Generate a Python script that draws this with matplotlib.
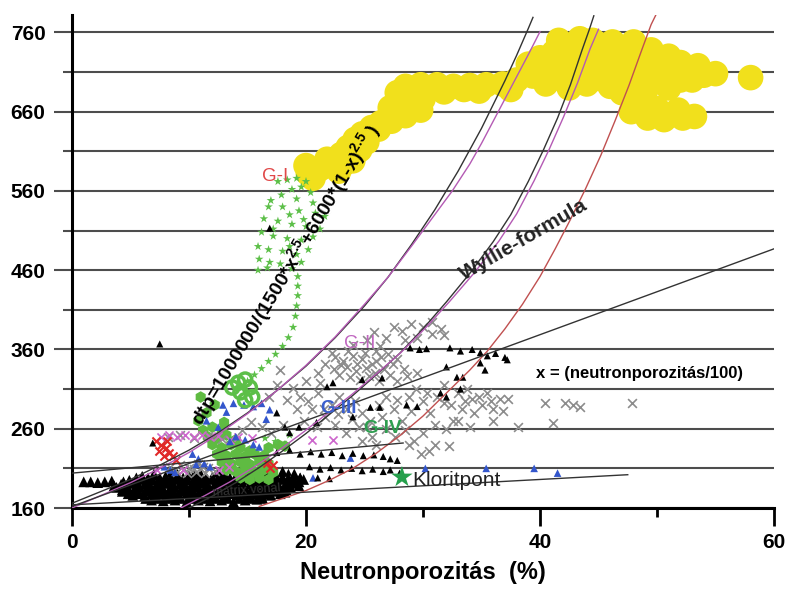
import matplotlib.pyplot as plt
from matplotlib.ticker import MultipleLocator

plt.rcParams['font.family'] = ['Liberation Sans', 'DejaVu Sans']
plt.rcParams['mathtext.default'] = 'regular'

# --- measured points (neutron porosity %, sonic dtp) ---
yellow_pts = [
    (20.2, 582), (21.2, 588), (22.2, 592), (23.2, 594), (24.0, 598), (21.8, 600),
    (23.0, 606), (24.6, 612), (25.2, 622), (24.8, 632), (25.6, 640), (26.4, 646),
    (27.3, 648), (28.5, 655), (29.8, 662), (29.5, 667), (20.6, 576), (22.8, 585),
    (20.0, 592), (23.6, 615), (24.2, 625), (26.2, 638), (27.8, 662), (28.8, 668),
    (27.2, 665), (30.0, 676),
    (28.5, 692), (29.8, 694), (31.2, 694), (32.6, 692), (34.0, 693), (35.4, 694),
    (36.8, 695), (30.5, 688), (33.5, 688), (27.8, 684), (31.8, 685), (34.8, 686),
    (37.5, 688), (38.0, 700),
    (39.4, 705), (40.6, 715), (41.2, 735), (41.6, 750), (43.4, 752), (45.0, 745),
    (46.2, 748), (48.0, 748), (49.5, 738), (51.0, 730), (40.5, 695), (42.0, 700),
    (43.5, 708), (45.0, 712), (46.5, 718), (48.0, 722), (49.5, 718), (51.0, 712),
    (52.5, 710), (54.0, 706), (44.0, 728), (46.0, 732), (42.5, 722), (48.0, 700),
    (50.0, 698), (52.0, 700), (44.0, 695), (46.0, 692), (42.5, 690),
    (39.0, 720), (40.0, 728), (41.0, 722), (42.0, 740), (43.0, 738), (44.5, 750),
    (45.5, 735), (47.0, 740), (47.5, 728), (49.0, 728), (50.5, 722), (52.0, 722),
    (53.5, 718), (55.0, 708), (43.0, 698), (45.0, 702), (47.0, 706), (49.0, 706),
    (51.0, 702), (53.0, 700), (47.0, 684), (49.0, 686), (51.0, 690),
    (47.8, 660), (49.2, 652), (50.6, 650), (52.2, 652), (48.5, 670), (50.0, 664),
    (51.8, 662), (53.2, 654),
    (58.0, 703),
]

green_star_pts = [
    (17.6, 572), (18.4, 574), (19.2, 576), (20.0, 572), (19.6, 565), (18.8, 562),
    (20.4, 558), (17.9, 555), (19.2, 550), (20.6, 545), (16.8, 540), (18.0, 540),
    (19.4, 535), (20.8, 532), (21.6, 528), (16.4, 525), (17.6, 522), (18.8, 518),
    (20.0, 515), (21.2, 512), (16.2, 508), (17.2, 503), (18.4, 500), (19.6, 498),
    (20.6, 502), (15.9, 490), (16.8, 486), (18.0, 484), (19.2, 480), (20.2, 486),
    (16.0, 474), (16.9, 470), (15.9, 460), (16.7, 463), (17.8, 468), (18.8, 462),
    (19.6, 470), (17.0, 548), (18.6, 530), (19.8, 524), (17.2, 512), (18.6, 490),
    (19.3, 452), (19.3, 440), (19.3, 428), (19.2, 415), (19.1, 402), (18.9, 388),
    (18.5, 375), (18.0, 364), (17.4, 354), (16.8, 345), (16.2, 336), (15.6, 328),
    (15.0, 320),
    (16.5, 248), (17.4, 244), (18.3, 240), (17.0, 236), (18.6, 252),
]

green_ring_pts = [(14.2, 318), (14.8, 322), (15.2, 312), (14.4, 306), (13.7, 312),
                  (15.4, 300), (14.8, 296)]

green_blob_pts = [
    (11.2, 258), (12.0, 262), (12.8, 258), (11.6, 250), (12.4, 248), (13.2, 252),
    (12.0, 240), (12.8, 236), (13.6, 240), (14.4, 236), (12.4, 228), (13.2, 226),
    (14.0, 228), (14.8, 225), (15.6, 228), (16.4, 226), (12.8, 218), (13.6, 216),
    (14.4, 218), (15.2, 215), (16.0, 218), (16.8, 216), (13.2, 208), (14.0, 206),
    (14.8, 208), (15.6, 206), (16.4, 208), (17.2, 205), (14.4, 198), (15.2, 196),
    (16.0, 198), (16.8, 196), (10.8, 270), (11.5, 280), (12.2, 290), (11.0, 300),
    (16.8, 236), (17.6, 240), (18.2, 238), (15.2, 232), (14.0, 246), (13.0, 268),
]

gray_x_pts = [
    (22.5, 350), (23.2, 345), (24.0, 352), (24.8, 348), (25.6, 342), (26.4, 350),
    (23.5, 338), (24.3, 333), (25.1, 337), (25.9, 330), (26.7, 336), (27.4, 342),
    (22.8, 328), (23.8, 325), (24.6, 322), (25.4, 326), (26.2, 320), (27.2, 328),
    (26.3, 365), (26.8, 375), (25.8, 382), (27.5, 388), (28.2, 383), (29.0, 392),
    (30.0, 388), (30.8, 380), (29.5, 375), (31.5, 386),
    (22.2, 356), (23.6, 358), (25.0, 356), (26.0, 358), (27.0, 354), (24.4, 342),
    (26.0, 345), (27.8, 348), (28.4, 335), (23.0, 340), (22.4, 336), (27.8, 320),
    (28.6, 326), (29.5, 330), (21.6, 342), (21.0, 330), (24.0, 366), (25.2, 372),
    (28.5, 372), (30.8, 395), (31.8, 378),
    (17.8, 334), (18.9, 312), (19.5, 300), (20.2, 295), (21.0, 305), (20.5, 285),
    (19.8, 270), (20.9, 262), (21.6, 275), (22.2, 290), (22.8, 300), (23.5, 285),
    (24.2, 295), (24.8, 280), (25.5, 270), (26.2, 290), (26.8, 300), (27.5, 285),
    (28.2, 270), (28.8, 300), (29.4, 310), (30.0, 295), (30.6, 280), (31.2, 300),
    (31.8, 315), (32.4, 290), (33.0, 305), (33.6, 295), (34.2, 298), (35.0, 290),
    (35.8, 295), (36.6, 297), (37.3, 298), (36.8, 282), (38.1, 262), (34.4, 280),
    (33.0, 270), (32.0, 260), (31.0, 265), (30.0, 255), (29.2, 245), (28.5, 258),
    (27.6, 250), (26.8, 260), (25.6, 250), (24.5, 262), (23.4, 255), (22.5, 265),
    (21.5, 285), (22.7, 278), (23.9, 272), (25.2, 262), (26.5, 275), (27.8, 296),
    (29.0, 282), (30.3, 305), (31.8, 292), (33.3, 285), (34.8, 300), (36.0, 285),
    (33.8, 310), (35.5, 305), (32.6, 270), (34.0, 262), (36.0, 270), (20.0, 320),
    (21.2, 318), (19.2, 285), (18.4, 296), (17.5, 315), (16.8, 300), (28.8, 240),
    (29.8, 228), (26.0, 240), (24.8, 244),
    (17.0, 255), (18.0, 265), (16.2, 262), (15.3, 268), (14.5, 258),
    (40.4, 292), (41.1, 267), (42.1, 293), (42.8, 290), (43.4, 287), (47.9, 292),
    (31.0, 240), (32.2, 238), (30.5, 232),
    (8.4, 212), (9.2, 214), (10.0, 211), (10.8, 215), (11.6, 210), (9.0, 206),
    (9.8, 204), (10.6, 206), (11.4, 204), (12.2, 207), (8.2, 250), (9.2, 252),
    (10.4, 248), (11.6, 251), (12.8, 247), (9.6, 209), (10.4, 209), (11.2, 212),
]

black_mass_pts = [
    (6.8, 170), (7.8, 169), (8.8, 170), (9.8, 168), (10.8, 170), (11.8, 169),
    (12.8, 170), (13.8, 168), (14.8, 170), (15.8, 171),
    (6.3, 172), (7.3, 172), (8.3, 172), (9.3, 172), (10.3, 172), (11.3, 172),
    (12.3, 172), (13.3, 172), (14.3, 172), (15.3, 172), (16.3, 172),
    (5.2, 176), (6.2, 175), (7.2, 175), (8.2, 176), (9.2, 174), (10.2, 175),
    (11.2, 176), (12.2, 174), (13.2, 175), (14.2, 176), (15.2, 174), (16.2, 175),
    (17.0, 176),
    (4.8, 178), (5.8, 178), (6.8, 178), (7.8, 178), (8.8, 178), (9.8, 178),
    (10.8, 178), (11.8, 178), (12.8, 178), (13.8, 178), (14.8, 178), (15.8, 178),
    (16.8, 178), (17.8, 178),
    (4.3, 181), (5.3, 180), (6.3, 181), (7.3, 180), (8.3, 179), (9.3, 181),
    (10.3, 180), (11.3, 181), (12.3, 179), (13.3, 180), (14.3, 181), (15.3, 180),
    (16.3, 179), (17.3, 181), (18.2, 180),
    (4.3, 183), (5.3, 183), (6.3, 183), (7.3, 183), (8.3, 183), (9.3, 183),
    (10.3, 183), (11.3, 183), (12.3, 183), (13.3, 183), (14.3, 183), (15.3, 183),
    (16.3, 183), (17.3, 183), (18.3, 183),
    (3.8, 186), (4.8, 185), (5.8, 186), (6.8, 185), (7.8, 184), (8.8, 186),
    (9.8, 185), (10.8, 186), (11.8, 184), (12.8, 185), (13.8, 186), (14.8, 185),
    (15.8, 184), (16.8, 186), (17.8, 185), (18.7, 186),
    (3.6, 188), (4.6, 188), (5.6, 188), (6.6, 188), (7.6, 188), (8.6, 188),
    (9.6, 188), (10.6, 188), (11.6, 188), (12.6, 188), (13.6, 188), (14.6, 188),
    (15.6, 188), (16.6, 188), (17.6, 188), (18.6, 188), (19.4, 188),
    (4.2, 190), (5.2, 191), (6.2, 190), (7.2, 189), (8.2, 191), (9.2, 190),
    (10.2, 189), (11.2, 191), (12.2, 190), (13.2, 191), (14.2, 189), (15.2, 190),
    (16.2, 191), (17.2, 190), (18.2, 189), (19.1, 191),
    (4.4, 193), (5.4, 193), (6.4, 193), (7.4, 193), (8.4, 193), (9.4, 193),
    (10.4, 193), (11.4, 193), (12.4, 193), (13.4, 193), (14.4, 193), (15.4, 193),
    (16.4, 193), (17.4, 193), (18.4, 193), (19.4, 193),
    (4.9, 195), (5.9, 196), (6.9, 195), (7.9, 194), (8.9, 196), (9.9, 195),
    (10.9, 194), (11.9, 196), (12.9, 195), (13.9, 194), (14.9, 196), (15.9, 195),
    (16.9, 194), (17.9, 196), (18.9, 195), (19.8, 196),
    (5.5, 198), (6.5, 198), (7.5, 198), (8.5, 198), (9.5, 198), (10.5, 198),
    (11.5, 198), (12.5, 198), (13.5, 198), (14.5, 198), (15.5, 198), (16.5, 198),
    (17.5, 198), (18.5, 198), (19.5, 198),
    (6.0, 200), (7.0, 201), (8.0, 200), (9.0, 199), (10.0, 201), (11.0, 200),
    (12.0, 199), (13.0, 201), (14.0, 200), (15.0, 199), (16.0, 201), (17.0, 200),
    (18.0, 199), (19.0, 201),
    (7.0, 203), (9.0, 203), (11.0, 203), (13.0, 203), (15.0, 203), (17.0, 203),
    (19.0, 203),
    (8.5, 205), (10.5, 204), (12.5, 205), (14.5, 204), (16.5, 205), (18.0, 206),
    (1.0, 193), (1.6, 193), (2.2, 192), (2.8, 193), (3.4, 194),
]

black_tri_pts = [
    (7.5, 367), (6.9, 242), (16.9, 513), (17.5, 280), (18.2, 262), (19.4, 262),
    (18.6, 255), (20.9, 268), (21.8, 313), (22.3, 318), (24.8, 322), (26.5, 324),
    (28.9, 362), (29.7, 360), (30.3, 361), (24.0, 275), (26.3, 287), (25.5, 287),
    (28.6, 290), (29.5, 288), (31.5, 305), (32.0, 300), (32.9, 325), (33.2, 310),
    (32.0, 338), (33.4, 325), (32.3, 362), (33.2, 358), (34.2, 360), (34.9, 356),
    (35.5, 352), (36.2, 355), (37.0, 350), (37.2, 347), (34.9, 343), (35.3, 334),
    (26.6, 225), (27.2, 222), (27.8, 220), (28.0, 204),
    (17.5, 230), (18.6, 233), (19.5, 228), (20.4, 231), (21.3, 228), (22.2, 230),
    (23.1, 226), (24.0, 229), (24.9, 226), (25.8, 227), (20.3, 212), (21.2, 209),
    (22.1, 211), (23.0, 208), (23.9, 210), (24.8, 207), (25.7, 209), (26.6, 206),
    (27.2, 208), (21.0, 198), (22.0, 197), (19.5, 200), (18.5, 205),
]

blue_tri_pts = [
    (12.9, 290), (13.8, 292), (14.7, 290), (15.5, 288), (16.2, 292), (16.9, 284),
    (13.2, 281), (16.6, 272), (14.0, 250), (14.8, 246), (15.5, 240), (16.0, 237),
    (13.5, 244), (10.3, 228), (10.8, 222), (11.3, 216), (11.8, 212), (10.6, 215),
    (7.9, 212), (8.4, 208), (8.8, 205), (23.8, 223), (20.6, 198), (30.2, 210),
    (35.4, 210), (39.5, 210), (41.5, 204), (12.5, 262), (11.5, 270),
]

red_x_pts = [(7.2, 245), (7.6, 240), (8.0, 236), (8.3, 230), (8.6, 225), (8.9, 220),
             (7.4, 232), (8.1, 244), (7.9, 226), (16.7, 217), (17.2, 214), (16.9, 210)]

magenta_x_pts = [
    (7.6, 250), (8.3, 252), (9.0, 250), (9.7, 252), (10.4, 250), (11.1, 252),
    (11.8, 250), (12.5, 251), (13.5, 246), (14.2, 250), (15.4, 248), (20.5, 246),
    (22.3, 246), (7.3, 208), (9.5, 208), (12.6, 208), (13.4, 212),
]

kloritpont = (28.2, 199)

# --- model curves ---
curve1_x = [0, 2.5, 5, 7.5, 10, 12.5, 15, 17.5, 20, 22.5, 25, 27, 29, 31, 33, 34, 35, 36, 37, 38, 39, 39.4]
curve1_y = [166, 181, 196, 214, 233, 255, 280, 308, 339, 375, 415, 451, 492, 536, 585, 612, 639, 669, 699, 731, 765, 779]
curve1m_x = [0, 2.5, 5, 7.5, 10, 12.5, 15, 17.5, 20, 22.5, 25, 27, 29, 31, 32.5, 34, 35, 36, 37, 38, 39, 40]
curve1m_y = [160, 176, 192, 210, 230, 253, 279, 308, 340, 376, 417, 451, 490, 530, 560, 594, 620, 648, 676, 704, 732, 761]
curve2_x = [10, 12, 14, 16, 18, 20, 22, 24, 26, 28, 30, 32, 34, 36, 37.5, 39, 40.3, 41.5, 42.6, 43.6, 44.2, 44.6]
curve2_y = [160, 175, 192, 211, 232, 254, 278, 302, 328, 355, 386, 420, 456, 496, 530, 572, 612, 652, 694, 738, 763, 781]
curve2m_x = [9.3, 11.4, 13.5, 15.6, 17.7, 19.8, 21.8, 23.9, 26, 28.1, 30.2, 32.3, 34.4, 36.5, 38, 39.5, 40.8, 42, 43.2, 44.3, 45]
curve2m_y = [160, 176, 193, 212, 233, 256, 279, 303, 329, 356, 387, 421, 457, 497, 531, 573, 613, 653, 696, 740, 764]
curve3_x = [16, 18, 20, 22, 24, 26, 28, 30, 32, 34, 35.5, 37, 38.5, 40, 41.3, 42.6, 43.9, 45.2, 46.4, 47.6, 48.7, 49.5, 49.9]
curve3_y = [162, 172, 182, 195, 210, 229, 251, 276, 305, 334, 358, 386, 417, 452, 487, 524, 563, 605, 648, 693, 738, 770, 782]

line1_x, line1_y = [0, 60], [162, 487]
line2_x, line2_y = [0, 28.3], [204, 242]
line3_x, line3_y = [0, 47.5], [164, 202]


def xs(pts):
    return [p[0] for p in pts]


def ys(pts):
    return [p[1] for p in pts]


fig = plt.figure(figsize=(7.85, 5.90), dpi=100)
ax = fig.add_axes([72 / 785, 1 - 508 / 590, 702 / 785, 493 / 590])

ax.scatter(xs(yellow_pts), ys(yellow_pts), s=340, c='#f1e01c', edgecolors='none', zorder=2)
ax.scatter(xs(black_mass_pts), ys(black_mass_pts), s=60, marker='^', c='black',
           edgecolors='none', zorder=3)
ax.scatter(xs(green_blob_pts), ys(green_blob_pts), s=70, marker='h', c='#5fbb42',
           edgecolors='none', zorder=3.5)
ax.scatter(xs(gray_x_pts), ys(gray_x_pts), s=40, marker='x', c='#8c8c8c', linewidths=1.2, zorder=4)
ax.scatter(xs(magenta_x_pts), ys(magenta_x_pts), s=34, marker='x', c='#cc66cc', linewidths=1.2, zorder=4)
ax.scatter(xs(red_x_pts), ys(red_x_pts), s=34, marker='x', c='#e02828', linewidths=1.5, zorder=4.5)
ax.scatter(xs(blue_tri_pts), ys(blue_tri_pts), s=30, marker='^', c='#3356cc',
           edgecolors='none', zorder=4.5)
ax.scatter(xs(green_star_pts), ys(green_star_pts), s=42, marker='*', c='#5cbf48',
           edgecolors='none', zorder=4.6)
ax.scatter(xs(green_ring_pts), ys(green_ring_pts), s=90, marker='o', facecolors='none',
           edgecolors='#5cbf48', linewidths=2.5, zorder=4.6)
ax.scatter(xs(black_tri_pts), ys(black_tri_pts), s=26, marker='^', c='black',
           edgecolors='none', zorder=5)
ax.scatter([kloritpont[0]], [kloritpont[1]], s=260, marker='*', c='#26a04c',
           edgecolors='none', zorder=6)

ax.plot(curve1_x, curve1_y, color='#333333', lw=1.0, zorder=6)
ax.plot(curve1m_x, curve1m_y, color='#b45ab4', lw=1.0, zorder=6)
ax.plot(curve2_x, curve2_y, color='#333333', lw=1.0, zorder=6)
ax.plot(curve2m_x, curve2m_y, color='#b45ab4', lw=1.0, zorder=6)
ax.plot(curve3_x, curve3_y, color='#c05050', lw=1.0, zorder=6)
for lx, ly in [(line1_x, line1_y), (line2_x, line2_y), (line3_x, line3_y)]:
    ax.plot(lx, ly, color='#333333', lw=1.0, zorder=6)

# labels inside the plot
ax.text(18.2, 454, r'dtp=1000000/(1500*x$^{2.5}$+6000*(1-x)$^{2.5}$ )', fontsize=14,
        fontweight='bold', rotation=59, rotation_mode='anchor', ha='center', va='center', zorder=7)
ax.text(38.6, 498, 'Wyllie-formula', fontsize=15, fontweight='bold', color='#222222',
        rotation=30, rotation_mode='anchor', ha='center', va='center', zorder=7)
ax.text(39.7, 330, 'x = (neutronporozitás/100)', fontsize=12, fontweight='bold',
        ha='left', va='center', zorder=7)
ax.text(17.4, 578, 'G-I', fontsize=13.5, color='#e04848', ha='center', va='center', zorder=7)
ax.text(24.6, 368, 'G-II', fontsize=13.5, color='#c066c0', ha='center', va='center', zorder=7)
ax.text(22.8, 286, 'G-III', fontsize=13.5, color='#3a5fcd', fontweight='bold',
        ha='center', va='center', zorder=7)
ax.text(26.5, 260, 'G-IV', fontsize=13.5, color='#2e9e50', fontweight='bold',
        ha='center', va='center', zorder=7)
ax.text(29.1, 195, 'Kloritpont', fontsize=15, color='#222222', ha='left', va='center', zorder=7)
ax.text(12.0, 171, 'mátrix vonal', fontsize=9, color='#333333', rotation=4,
        ha='left', va='bottom', zorder=7)

# axes styling
ax.set_xlim(0, 60)
ax.set_ylim(160, 782)
ax.xaxis.set_major_locator(MultipleLocator(20))
ax.xaxis.set_minor_locator(MultipleLocator(10))
ax.set_yticks([160, 260, 360, 460, 560, 660, 760])
ax.set_yticks([210, 310, 410, 510, 610, 710], minor=True)
ax.set_axisbelow(True)
ax.grid(axis='y', which='both', color='#4d4d4d', lw=1.5)
ax.spines['top'].set_visible(False)
ax.spines['right'].set_visible(False)
ax.spines['left'].set_linewidth(2.2)
ax.spines['bottom'].set_linewidth(2.2)
ax.tick_params(axis='y', which='major', length=13, width=1.5, color='#4d4d4d', pad=6, labelsize=15)
ax.tick_params(axis='y', which='minor', length=6.5, width=1.5, color='#4d4d4d')
ax.tick_params(axis='x', which='major', length=13, width=2, pad=5, labelsize=15)
ax.tick_params(axis='x', which='minor', length=6.5, width=2)
for lbl in ax.get_xticklabels() + ax.get_yticklabels():
    lbl.set_fontweight('bold')

fig.text(423 / 785, 1 - 572 / 590, 'Neutronporozitás  (%)', fontsize=17, fontweight='bold',
         ha='center', va='center')

fig.savefig('out.png', dpi=100)
